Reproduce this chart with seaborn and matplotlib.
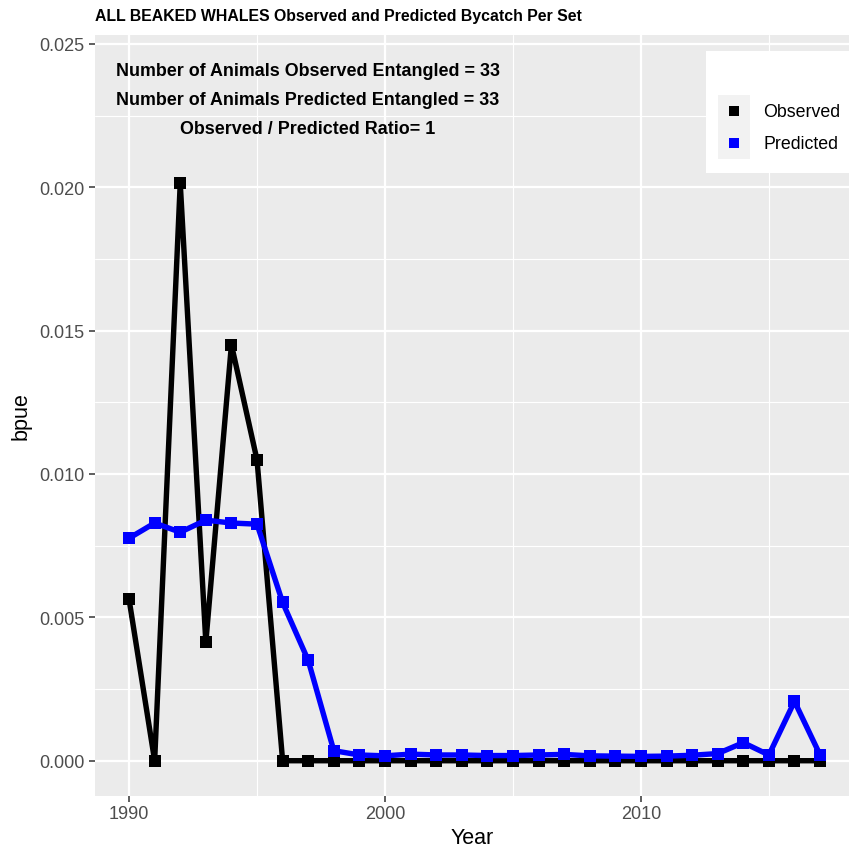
import matplotlib
matplotlib.use("Agg")
import matplotlib.pyplot as plt
from matplotlib.lines import Line2D
from matplotlib.patches import Rectangle
from matplotlib.legend_handler import HandlerBase
from matplotlib.ticker import MultipleLocator, FormatStrFormatter
import seaborn as sns
import pandas as pd

years = list(range(1990, 2018))
observed = [0.00563, 0.0, 0.02014, 0.00413, 0.01451, 0.01049] + [0.0] * 22
predicted = [0.00776, 0.00829, 0.00797, 0.00839, 0.00829, 0.00825, 0.00552, 0.00350,
             0.00035, 0.00020, 0.00017, 0.00023, 0.00020, 0.00020, 0.00018, 0.00018,
             0.00020, 0.00022, 0.00017, 0.00016, 0.00015, 0.00016, 0.00019, 0.00025,
             0.00063, 0.00020, 0.00207, 0.00020]
series_names = ["Observed", "Predicted"]
series_colors = ["black", "blue"]
title_text = "ALL BEAKED WHALES Observed and Predicted Bycatch Per Set"
annotations = ["Number of Animals Observed Entangled = 33",
               "Number of Animals Predicted Entangled = 33",
               "Observed / Predicted Ratio= 1"]

df = pd.concat([
    pd.DataFrame({"Year": years, "bpue": observed, "type": series_names[0]}),
    pd.DataFrame({"Year": years, "bpue": predicted, "type": series_names[1]}),
])

sns.set_theme(style="darkgrid")
plt.rcParams["font.family"] = ["Liberation Sans", "DejaVu Sans"]

W, H = 849, 853
fig = plt.figure(figsize=(W / 100, H / 100), dpi=100)
ax = fig.add_axes([94.5 / W, 1 - 796.7 / H, 1 - 94.5 / W, (796.7 - 35.7) / H])
ax.set_facecolor("#EBEBEB")

sns.lineplot(data=df, x="Year", y="bpue", hue="type", palette=dict(zip(series_names, series_colors)),
             style="type", markers={"Observed": "s", "Predicted": "s"}, dashes=False,
             linewidth=3.9, markersize=8.3, markeredgewidth=0, ax=ax, legend=False)

ax.set_xlim(1988.65, 2018.13)
ax.set_ylim(-0.00122, 0.02532)
ax.xaxis.set_major_locator(MultipleLocator(10))
ax.xaxis.set_minor_locator(MultipleLocator(5))
ax.yaxis.set_major_locator(MultipleLocator(0.005))
ax.yaxis.set_minor_locator(MultipleLocator(0.0025))
ax.yaxis.set_major_formatter(FormatStrFormatter("%.3f"))
ax.grid(which="major", color="white", linewidth=1.6)
ax.grid(which="minor", color="white", linewidth=0.8)
ax.set_axisbelow(True)
for s in ax.spines.values():
    s.set_visible(False)
ax.tick_params(axis="both", which="major", length=4, width=1.1, color="#333333",
               labelsize=13, labelcolor="#4D4D4D", pad=3, bottom=True, left=True)
ax.tick_params(which="minor", length=0)
ax.set_xlabel("Year", fontsize=15.5, color="black", labelpad=3)
ax.set_ylabel("bpue", fontsize=15.5, color="black", labelpad=6)

fig.text(95 / W, 1 - 16 / H, title_text, fontsize=11.4, fontweight="bold", va="center", ha="left",
         color="black")
for i, t in enumerate(annotations):
    fig.text(308 / W, 1 - (72 + 28.7 * i) / H, t, fontsize=12.9, fontweight="bold",
             ha="center", va="center", color="black")


class KeyHandler(HandlerBase):
    def create_artists(self, legend, orig_handle, xdescent, ydescent, width, height, fontsize, trans):
        size = height
        x0 = -xdescent
        y0 = -ydescent
        bg = Rectangle((x0, y0), size, size, facecolor="#F2F2F2", edgecolor="none", transform=trans)
        mk = Line2D([x0 + size / 2], [y0 + size / 2], marker="s", linestyle="none",
                    color=orig_handle.get_color(), markersize=7.5, markeredgewidth=0, transform=trans)
        return [bg, mk]


handles = [Line2D([], [], color=c) for c in series_colors]
box = Rectangle((706 / W, 1 - 174 / H), (W - 706) / W, (174 - 52) / H, transform=fig.transFigure,
                facecolor="white", edgecolor="none", zorder=10, clip_on=False)
ax.add_patch(box)
leg = ax.legend(handles, series_names, handler_map={Line2D: KeyHandler()},
                loc="upper left", bbox_to_anchor=(718 / W, 1 - 96 / H), bbox_transform=fig.transFigure,
                frameon=False, fontsize=12.8, handlelength=1.8, handleheight=2.39,
                labelspacing=0.0, handletextpad=0.75, borderpad=0, borderaxespad=0)
leg.set_zorder(11)
for t in leg.get_texts():
    t.set_color("black")

fig.savefig("out.png", dpi=100)
